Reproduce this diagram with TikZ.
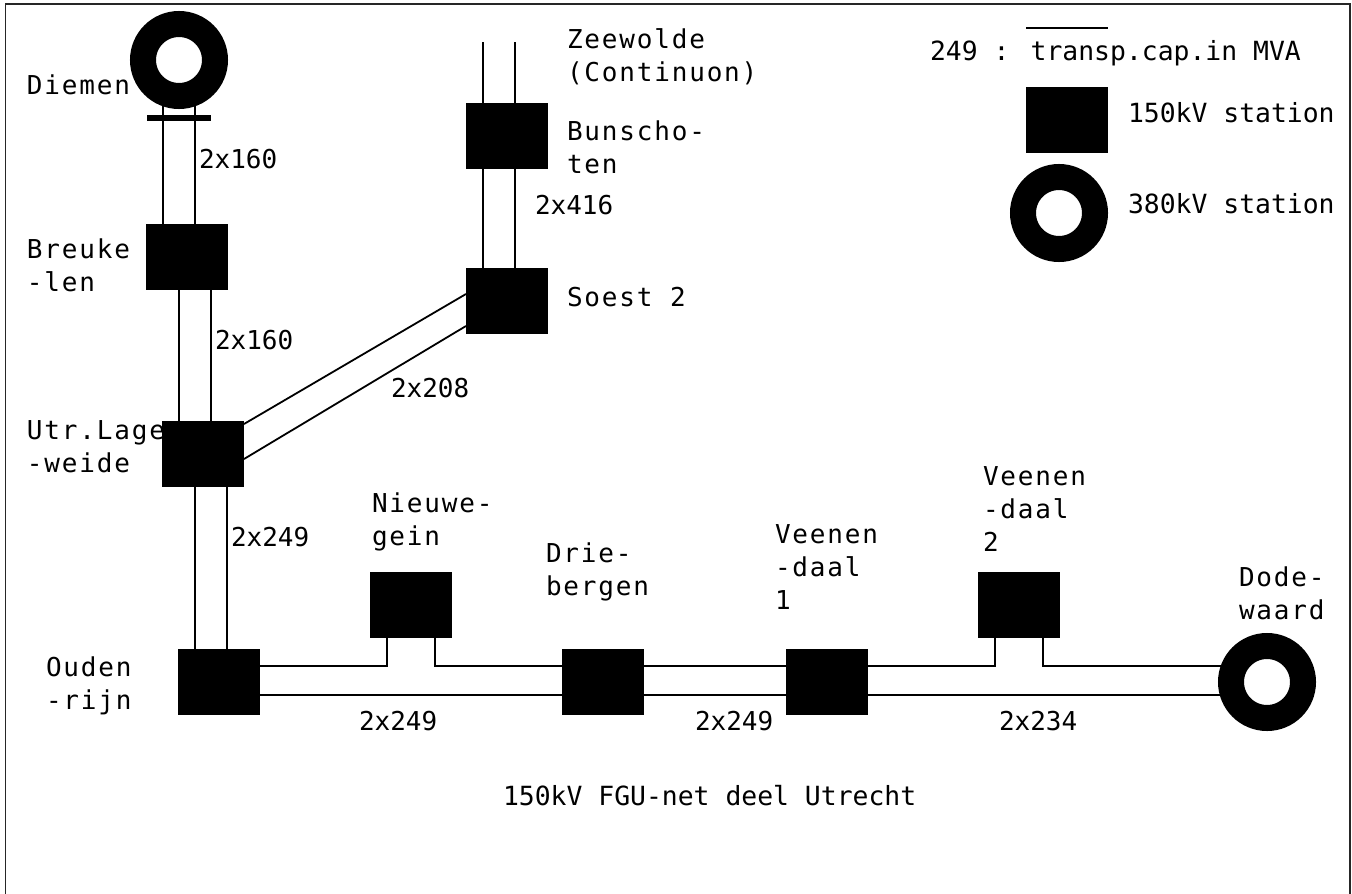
\documentclass[tikz,border=0pt]{standalone}
\usepackage{fontspec}
\newfontfamily\monofnt{DejaVu Sans Mono}
\newfontfamily\spacedfnt[LetterSpace=7]{DejaVu Sans Mono}
\tikzset{
  stn150/.style={fill=black,draw=none,inner sep=0pt,outer sep=0pt,minimum width=82pt,minimum height=66pt},
  stn380/.style={circle,draw=black,fill=white,line width=26pt,inner sep=0pt,minimum size=72pt},
  lbl/.style={anchor=base west,inner sep=0pt,outer sep=0pt,align=left,font=\monofnt\fontsize{26}{33}\selectfont},
  stnlbl/.style={lbl,font=\spacedfnt\fontsize{26}{33}\selectfont},
  ttl/.style={lbl,font=\monofnt\fontsize{26.4}{33}\selectfont},
  wire/.style={draw=black,line width=1.8pt},
  frameline/.style={draw=black!85,line width=1.6pt}
}
\begin{document}
\begin{tikzpicture}[x=1pt,y=-1pt]
\useasboundingbox (0,0) rectangle (1352,894);
\fill[white] (0,0) rectangle (1352,894);
\draw[frameline] (5.5,894) -- (5.5,4) -- (1350,4) -- (1350,894);

% labels (under the stations)
\node[stnlbl] (tDiemen) at (27,94) {Diemen};
\node[stnlbl] (tBreuke) at (27,291) {Breuke\\-len};
\node[stnlbl] (tZee) at (567,81) {Zeewolde\\(Continuon)};
\node[stnlbl] (tBun) at (567,173) {Bunscho-\\ten};
\node[stnlbl] (tSoest) at (567,306) {Soest 2};
\node[stnlbl] (tUtr) at (27,472) {Utr.Lage\\-weide};
\node[stnlbl] (tNieuw) at (372,545) {Nieuwe-\\gein};
\node[stnlbl] (tDrie) at (546,595) {Drie-\\bergen};
\node[stnlbl] (tV1) at (775,609) {Veenen\\-daal\\1};
\node[stnlbl] (tV2) at (983,551) {Veenen\\-daal\\2};
\node[stnlbl] (tDode) at (1239,619) {Dode-\\waard};
\node[stnlbl] (tOuden) at (46,709) {Ouden\\-rijn};
\node[lbl] (c1) at (199,168) {2x160};
\node[lbl] (c2) at (215,349) {2x160};
\node[lbl] (c3) at (535,214) {2x416};
\node[lbl] (c4) at (391,397) {2x208};
\node[lbl] (c5) at (231,546) {2x249};
\node[lbl] (c6) at (359,730) {2x249};
\node[lbl] (c7) at (695,730) {2x249};
\node[lbl] (c8) at (999,730) {2x234};
\node[ttl] (tTitle) at (503,805) {150kV FGU-net deel Utrecht};
\node[ttl] (tCap) at (930,60) {249 : transp.cap.in MVA};
\node[ttl] (t150) at (1128,122) {150kV station};
\node[ttl] (t380) at (1128,213) {380kV station};

% stations
\node[stn380] (diemen) at (179,60) {};
\node[stn150] (breukelen) at (187,257) {};
\node[stn150] (bunschoten) at (507,136) {};
\node[stn150] (soest) at (507,301) {};
\node[stn150] (utrecht) at (203,454) {};
\node[stn150] (oudenrijn) at (219,682) {};
\node[stn150] (nieuwegein) at (411,605) {};
\node[stn150] (driebergen) at (603,682) {};
\node[stn150] (veen1) at (827,682) {};
\node[stn150] (veen2) at (1019,605) {};
\node[stn380] (dodewaard) at (1267,682) {};
\node[stn150] (leg150) at (1067,120) {};
\node[stn380] (leg380) at (1059,213) {};

% free ends
\coordinate (zeeL) at (483,42);
\coordinate (zeeR) at (515,42);
\coordinate (ovA) at (1026,28);
\coordinate (ovB) at (1108,28);
\coordinate (barA) at (147,118);
\coordinate (barB) at (211,118);

% connectors
\draw[wire] (diemen.251) -- (diemen.251 |- breukelen.north);
\draw[wire] (diemen.289) -- (diemen.289 |- breukelen.north);
\draw[black,line width=6pt] (barA) -- (barB);
\draw[wire] ([xshift=-8pt]breukelen.south) -- ([xshift=-8pt]breukelen.south |- utrecht.north);
\draw[wire] ([xshift=24pt]breukelen.south) -- ([xshift=24pt]breukelen.south |- utrecht.north);
\draw[wire] ([xshift=-8pt]utrecht.south) -- ([xshift=-8pt]utrecht.south |- oudenrijn.north);
\draw[wire] ([xshift=24pt]utrecht.south) -- ([xshift=24pt]utrecht.south |- oudenrijn.north);
\draw[wire] (zeeL) -- (zeeL |- bunschoten.north);
\draw[wire] (zeeR) -- (zeeR |- bunschoten.north);
\draw[wire] (zeeL |- bunschoten.south) -- (zeeL |- soest.north);
\draw[wire] (zeeR |- bunschoten.south) -- (zeeR |- soest.north);
\draw[wire] ([yshift=30pt]utrecht.east) -- ([yshift=7pt]soest.west);
\draw[wire] ([yshift=-5pt]utrecht.east) -- ([yshift=-25pt]soest.west);
\draw[wire] ([yshift=16pt]oudenrijn.east) -| ([xshift=-24pt]nieuwegein.south);
\draw[wire] ([xshift=24pt]nieuwegein.south) |- ([yshift=16pt]driebergen.west);
\draw[wire] ([yshift=-13pt]oudenrijn.east) -- ([yshift=-13pt]driebergen.west);
\draw[wire] ([yshift=16pt]driebergen.east) -- ([yshift=16pt]veen1.west);
\draw[wire] ([yshift=-13pt]driebergen.east) -- ([yshift=-13pt]veen1.west);
\draw[wire] ([yshift=16pt]veen1.east) -| ([xshift=-24pt]veen2.south);
\draw[wire] ([xshift=24pt]veen2.south) |- ([yshift=16pt,xshift=3pt]dodewaard.west);
\draw[wire] ([yshift=-13pt]veen1.east) -- ([yshift=-13pt,xshift=3pt]dodewaard.west);
\draw[wire] (ovA) -- (ovB);
\end{tikzpicture}
\end{document}
